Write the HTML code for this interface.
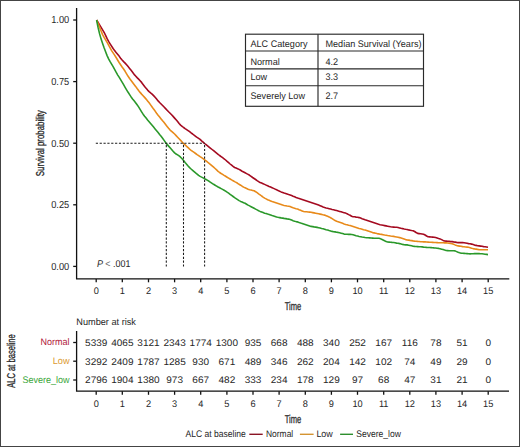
<!DOCTYPE html><html><head><meta charset="utf-8"><style>
html,body{margin:0;padding:0;background:#fff;}
body{width:520px;height:447px;overflow:hidden;position:relative;}
svg{position:absolute;left:0;top:0;text-rendering:geometricPrecision;}
text{font-family:"Liberation Sans",sans-serif;fill:#262626;}
.cd{stroke:#222;stroke-width:0.28px;}
</style></head><body>
<svg width="520" height="447" viewBox="0 0 520 447">
<rect x="0" y="0" width="520" height="447" fill="#fff"/>

<rect x="0.5" y="0.5" width="519" height="446" fill="none" stroke="#444" stroke-width="1"/>
<g stroke="#111" stroke-width="1.3" fill="none">
<path d="M76.6 8 V278.9 H509.3"/>
<path d="M73.2 20.0 H76.6"/>
<path d="M73.2 81.6 H76.6"/>
<path d="M73.2 143.2 H76.6"/>
<path d="M73.2 204.8 H76.6"/>
<path d="M73.2 266.4 H76.6"/>
<path d="M96.2 278.9 V282.3"/>
<path d="M122.3 278.9 V282.3"/>
<path d="M148.5 278.9 V282.3"/>
<path d="M174.6 278.9 V282.3"/>
<path d="M200.7 278.9 V282.3"/>
<path d="M226.9 278.9 V282.3"/>
<path d="M253.0 278.9 V282.3"/>
<path d="M279.1 278.9 V282.3"/>
<path d="M305.3 278.9 V282.3"/>
<path d="M331.4 278.9 V282.3"/>
<path d="M357.5 278.9 V282.3"/>
<path d="M383.7 278.9 V282.3"/>
<path d="M409.8 278.9 V282.3"/>
<path d="M435.9 278.9 V282.3"/>
<path d="M462.1 278.9 V282.3"/>
<path d="M488.2 278.9 V282.3"/>
</g>
<text transform="translate(69.20 23.30) scale(0.910 1)" font-size="10.2" text-anchor="end">1.00</text>
<text transform="translate(69.20 84.90) scale(0.910 1)" font-size="10.2" text-anchor="end">0.75</text>
<text transform="translate(69.20 146.50) scale(0.910 1)" font-size="10.2" text-anchor="end">0.50</text>
<text transform="translate(69.20 208.10) scale(0.910 1)" font-size="10.2" text-anchor="end">0.25</text>
<text transform="translate(69.20 269.70) scale(0.910 1)" font-size="10.2" text-anchor="end">0.00</text>
<text transform="translate(96.20 294.40) scale(0.960 1)" font-size="9.6" text-anchor="middle">0</text>
<text transform="translate(122.33 294.40) scale(0.960 1)" font-size="9.6" text-anchor="middle">1</text>
<text transform="translate(148.47 294.40) scale(0.960 1)" font-size="9.6" text-anchor="middle">2</text>
<text transform="translate(174.60 294.40) scale(0.960 1)" font-size="9.6" text-anchor="middle">3</text>
<text transform="translate(200.73 294.40) scale(0.960 1)" font-size="9.6" text-anchor="middle">4</text>
<text transform="translate(226.87 294.40) scale(0.960 1)" font-size="9.6" text-anchor="middle">5</text>
<text transform="translate(253.00 294.40) scale(0.960 1)" font-size="9.6" text-anchor="middle">6</text>
<text transform="translate(279.13 294.40) scale(0.960 1)" font-size="9.6" text-anchor="middle">7</text>
<text transform="translate(305.27 294.40) scale(0.960 1)" font-size="9.6" text-anchor="middle">8</text>
<text transform="translate(331.40 294.40) scale(0.960 1)" font-size="9.6" text-anchor="middle">9</text>
<text transform="translate(357.53 294.40) scale(0.960 1)" font-size="9.6" text-anchor="middle">10</text>
<text transform="translate(383.67 294.40) scale(0.960 1)" font-size="9.6" text-anchor="middle">11</text>
<text transform="translate(409.80 294.40) scale(0.960 1)" font-size="9.6" text-anchor="middle">12</text>
<text transform="translate(435.93 294.40) scale(0.960 1)" font-size="9.6" text-anchor="middle">13</text>
<text transform="translate(462.07 294.40) scale(0.960 1)" font-size="9.6" text-anchor="middle">14</text>
<text transform="translate(488.20 294.40) scale(0.960 1)" font-size="9.6" text-anchor="middle">15</text>
<text transform="translate(292.9 309.8) scale(0.665 1)" font-size="11.4" text-anchor="middle" class="cd">Time</text>
<text transform="translate(44.1 143.2) rotate(-90) scale(0.69 1)" font-size="11.4" text-anchor="middle" class="cd">Survival probability</text>
<polyline points="96.6,20.0 98.1,22.5 99.6,24.9 101.1,27.3 102.6,29.8 104.1,32.4 105.6,35.4 107.1,38.7 108.6,41.4 110.1,43.8 111.6,46.2 113.1,48.5 114.6,50.6 116.1,52.4 117.6,54.2 119.1,56.1 120.6,58.2 122.1,60.0 123.6,61.6 125.1,63.1 126.6,64.8 128.1,66.6 129.6,68.4 131.1,70.3 132.6,72.2 134.1,74.4 135.6,76.0 137.1,77.6 138.6,79.1 140.1,80.7 141.6,82.4 143.1,84.4 144.6,86.4 146.1,88.3 147.6,90.1 149.1,91.6 150.6,92.9 152.1,94.1 153.6,95.6 155.1,97.3 156.6,99.1 158.1,100.9 159.6,102.5 161.1,104.0 162.6,105.5 164.1,107.0 165.6,108.6 167.1,110.2 168.6,111.8 170.1,113.3 171.6,114.8 173.1,116.4 174.6,118.1 176.1,119.8 177.6,121.6 179.1,123.5 180.6,125.1 182.1,126.3 183.6,127.5 185.1,128.6 186.6,129.6 188.1,130.6 189.6,131.7 191.1,132.9 192.6,134.0 194.1,135.2 195.6,136.3 197.1,137.4 198.6,138.4 200.1,139.4 201.6,140.8 203.1,142.1 204.6,143.5 206.1,144.7 207.6,145.9 209.1,147.1 210.6,148.3 212.1,149.5 213.6,150.7 215.1,151.9 216.6,153.1 218.1,154.3 219.6,155.5 221.1,156.6 222.6,157.7 224.1,158.8 225.6,160.0 227.1,161.4 228.6,162.7 230.1,164.0 231.6,165.2 233.1,166.4 234.6,167.5 236.1,168.1 237.6,168.7 239.1,169.4 240.6,170.3 242.1,171.2 243.6,172.0 245.1,172.8 246.6,173.6 248.1,174.4 249.6,175.3 251.1,176.4 252.6,177.5 254.1,178.5 255.6,179.5 257.1,180.6 258.6,181.6 260.1,182.5 261.6,183.1 263.1,183.7 264.6,184.4 266.1,185.1 267.6,185.8 269.1,186.5 270.6,187.1 272.1,187.7 273.6,188.4 275.1,189.1 276.6,189.8 278.1,190.6 279.6,191.2 281.1,191.9 282.6,192.5 284.1,193.1 285.6,193.5 287.1,194.0 288.6,194.5 290.1,194.9 291.6,195.5 293.1,196.2 294.6,196.8 296.1,197.5 297.6,198.1 299.1,198.5 300.6,199.0 302.1,199.5 303.6,200.0 305.1,200.5 306.6,201.0 308.1,201.5 309.6,202.0 311.1,202.5 312.6,203.0 314.1,203.5 315.6,204.0 317.1,204.5 318.6,205.1 320.1,205.7 321.6,206.3 323.1,207.0 324.6,207.6 326.1,208.0 327.6,208.3 329.1,208.7 330.6,209.1 332.1,209.5 333.6,209.8 335.1,210.2 336.6,210.6 338.1,211.0 339.6,211.4 341.1,211.8 342.6,212.3 344.1,212.7 345.6,213.1 347.1,213.8 348.6,214.6 350.1,215.3 351.6,216.2 353.1,216.8 354.6,216.8 356.1,217.1 357.6,217.3 359.1,217.6 360.6,218.1 362.1,218.7 363.6,219.2 365.1,219.8 366.6,220.3 368.1,220.8 369.6,221.3 371.1,221.8 372.6,222.3 374.1,222.8 375.6,223.3 377.1,223.8 378.6,224.3 380.1,224.7 381.6,225.0 383.1,225.3 384.6,225.6 386.1,225.9 387.6,226.2 389.1,226.5 390.6,226.8 392.1,227.0 393.6,227.1 395.1,227.3 396.6,227.3 398.1,227.5 399.6,227.9 401.1,228.3 402.6,228.6 404.1,229.0 405.6,229.3 407.1,229.5 408.6,229.9 410.1,230.2 411.6,230.5 413.1,230.7 414.6,231.5 416.1,232.5 417.6,233.4 419.1,233.6 420.6,233.8 422.1,234.0 423.6,234.2 425.1,235.0 426.6,236.0 428.1,236.8 429.6,236.9 431.1,237.0 432.6,237.1 434.1,237.2 435.6,237.6 437.1,238.0 438.6,238.5 440.1,238.9 441.6,239.6 443.1,240.4 444.6,241.0 446.1,241.1 447.6,241.3 449.1,241.4 450.6,241.6 452.1,241.6 453.6,241.9 455.1,242.1 456.6,242.4 458.1,242.6 459.6,242.6 461.1,242.6 462.6,242.6 464.1,242.7 465.6,243.0 467.1,243.3 468.6,243.6 470.1,243.8 471.6,244.1 473.1,244.6 474.6,245.1 476.1,245.4 477.6,245.7 479.1,245.9 480.6,246.1 482.1,246.3 483.6,246.6 485.1,246.8 486.6,247.0 488.0,247.2" fill="none" stroke="#a40a20" stroke-width="1.6" stroke-linejoin="round"/>
<polyline points="96.6,20.0 98.1,23.5 99.6,27.2 101.1,31.0 102.6,34.6 104.1,37.4 105.6,39.9 107.1,42.4 108.6,45.1 110.1,47.9 111.6,50.6 113.1,52.9 114.6,55.1 116.1,57.5 117.6,60.0 119.1,62.5 120.6,64.8 122.1,67.0 123.6,69.0 125.1,71.3 126.6,73.8 128.1,76.3 129.6,78.5 131.1,80.4 132.6,82.4 134.1,84.4 135.6,86.4 137.1,88.5 138.6,90.5 140.1,92.4 141.6,94.1 143.1,95.7 144.6,97.4 146.1,99.1 147.6,100.9 149.1,102.8 150.6,104.9 152.1,107.0 153.6,109.1 155.1,111.1 156.6,113.2 158.1,115.2 159.6,117.0 161.1,118.9 162.6,120.8 164.1,122.6 165.6,124.5 167.1,126.4 168.6,128.3 170.1,130.1 171.6,131.4 173.1,132.7 174.6,134.0 176.1,135.6 177.6,137.2 179.1,138.8 180.6,140.4 182.1,142.0 183.6,143.6 185.1,144.9 186.6,146.3 188.1,147.7 189.6,149.1 191.1,150.3 192.6,151.4 194.1,152.4 195.6,153.5 197.1,154.6 198.6,155.6 200.1,156.7 201.6,157.7 203.1,158.7 204.6,159.8 206.1,160.9 207.6,162.2 209.1,163.4 210.6,164.6 212.1,165.9 213.6,167.2 215.1,168.5 216.6,169.9 218.1,171.3 219.6,172.5 221.1,173.5 222.6,174.4 224.1,175.4 225.6,176.3 227.1,177.2 228.6,178.1 230.1,179.0 231.6,179.9 233.1,180.7 234.6,181.6 236.1,182.4 237.6,183.3 239.1,184.3 240.6,185.2 242.1,186.2 243.6,187.1 245.1,187.8 246.6,188.5 248.1,189.2 249.6,189.7 251.1,190.0 252.6,190.4 254.1,190.8 255.6,191.7 257.1,192.7 258.6,193.8 260.1,194.8 261.6,196.0 263.1,197.1 264.6,198.1 266.1,198.9 267.6,199.7 269.1,200.3 270.6,200.9 272.1,201.5 273.6,202.0 275.1,202.5 276.6,203.0 278.1,203.5 279.6,204.0 281.1,204.5 282.6,205.1 284.1,205.5 285.6,205.7 287.1,206.0 288.6,206.2 290.1,206.6 291.6,207.2 293.1,207.8 294.6,208.3 296.1,208.7 297.6,209.0 299.1,209.7 300.6,210.3 302.1,210.9 303.6,211.5 305.1,211.7 306.6,211.8 308.1,212.0 309.6,212.1 311.1,212.3 312.6,212.6 314.1,212.9 315.6,213.2 317.1,213.5 318.6,213.8 320.1,214.1 321.6,214.4 323.1,214.8 324.6,215.1 326.1,215.7 327.6,216.3 329.1,216.9 330.6,217.7 332.1,218.6 333.6,219.6 335.1,220.5 336.6,221.3 338.1,221.8 339.6,222.3 341.1,222.8 342.6,223.3 344.1,223.9 345.6,224.4 347.1,224.8 348.6,225.2 350.1,225.5 351.6,225.9 353.1,226.4 354.6,226.9 356.1,227.4 357.6,227.9 359.1,228.4 360.6,228.8 362.1,229.2 363.6,229.7 365.1,230.1 366.6,230.6 368.1,231.1 369.6,231.6 371.1,232.1 372.6,232.6 374.1,232.9 375.6,233.2 377.1,233.6 378.6,233.9 380.1,234.2 381.6,234.4 383.1,234.7 384.6,235.0 386.1,235.2 387.6,235.5 389.1,235.7 390.6,236.0 392.1,236.2 393.6,236.4 395.1,236.7 396.6,237.0 398.1,237.3 399.6,237.6 401.1,238.1 402.6,238.6 404.1,239.1 405.6,239.6 407.1,239.9 408.6,240.1 410.1,240.4 411.6,240.6 413.1,240.9 414.6,241.1 416.1,241.2 417.6,241.4 419.1,241.5 420.6,241.7 422.1,241.8 423.6,241.9 425.1,241.9 426.6,242.0 428.1,242.1 429.6,242.2 431.1,242.3 432.6,242.4 434.1,242.5 435.6,242.5 437.1,242.6 438.6,242.7 440.1,242.7 441.6,242.8 443.1,242.8 444.6,242.9 446.1,242.9 447.6,243.0 449.1,243.2 450.6,243.5 452.1,243.7 453.6,244.2 455.1,244.9 456.6,245.5 458.1,245.9 459.6,246.1 461.1,246.3 462.6,246.6 464.1,246.8 465.6,247.0 467.1,247.1 468.6,247.3 470.1,247.7 471.6,248.2 473.1,248.6 474.6,248.9 476.1,249.1 477.6,249.4 479.1,249.6 480.6,249.7 482.1,249.7 483.6,249.7 485.1,249.7 486.6,249.8 488.0,249.8" fill="none" stroke="#e88a1a" stroke-width="1.6" stroke-linejoin="round"/>
<polyline points="96.6,20.0 98.1,27.5 99.6,33.9 101.1,39.1 102.6,43.6 104.1,47.8 105.6,51.7 107.1,55.6 108.6,58.9 110.1,61.7 111.6,64.2 113.1,66.6 114.6,69.4 116.1,72.2 117.6,74.8 119.1,77.2 120.6,79.6 122.1,82.1 123.6,84.7 125.1,87.3 126.6,89.8 128.1,92.3 129.6,94.6 131.1,96.9 132.6,98.9 134.1,100.8 135.6,102.7 137.1,104.8 138.6,106.9 140.1,109.3 141.6,111.8 143.1,114.2 144.6,116.2 146.1,118.0 147.6,119.9 149.1,121.7 150.6,123.5 152.1,125.3 153.6,127.1 155.1,128.9 156.6,130.7 158.1,132.5 159.6,134.4 161.1,136.2 162.6,138.2 164.1,140.4 165.6,142.5 167.1,144.4 168.6,146.1 170.1,147.8 171.6,149.5 173.1,151.3 174.6,152.9 176.1,154.0 177.6,154.9 179.1,155.9 180.6,157.2 182.1,158.8 183.6,160.6 185.1,162.5 186.6,164.2 188.1,166.0 189.6,167.6 191.1,169.0 192.6,170.3 194.1,171.6 195.6,172.9 197.1,174.1 198.6,175.4 200.1,176.4 201.6,177.1 203.1,177.9 204.6,178.7 206.1,179.5 207.6,180.4 209.1,181.3 210.6,182.3 212.1,183.3 213.6,184.3 215.1,185.2 216.6,186.1 218.1,187.0 219.6,187.8 221.1,188.6 222.6,189.4 224.1,190.2 225.6,191.1 227.1,192.2 228.6,193.2 230.1,194.3 231.6,195.4 233.1,196.5 234.6,197.6 236.1,198.6 237.6,199.6 239.1,200.6 240.6,201.4 242.1,202.0 243.6,202.7 245.1,203.3 246.6,204.2 248.1,205.1 249.6,205.9 251.1,206.7 252.6,207.5 254.1,208.3 255.6,209.1 257.1,209.9 258.6,210.7 260.1,211.4 261.6,212.0 263.1,212.6 264.6,213.2 266.1,213.6 267.6,214.1 269.1,214.5 270.6,215.0 272.1,215.5 273.6,215.9 275.1,216.4 276.6,216.9 278.1,217.3 279.6,217.6 281.1,217.9 282.6,218.1 284.1,218.4 285.6,218.6 287.1,218.9 288.6,219.1 290.1,219.5 291.6,220.1 293.1,220.7 294.6,221.2 296.1,221.6 297.6,221.9 299.1,222.5 300.6,223.0 302.1,223.4 303.6,223.9 305.1,224.4 306.6,224.9 308.1,225.4 309.6,225.9 311.1,226.4 312.6,226.6 314.1,226.9 315.6,227.1 317.1,227.4 318.6,227.7 320.1,228.1 321.6,228.5 323.1,228.8 324.6,229.2 326.1,229.7 327.6,230.1 329.1,230.6 330.6,231.0 332.1,231.4 333.6,231.7 335.1,231.9 336.6,232.2 338.1,232.4 339.6,232.8 341.1,233.2 342.6,233.6 344.1,234.1 345.6,234.3 347.1,234.3 348.6,234.4 350.1,234.4 351.6,234.5 353.1,234.8 354.6,235.2 356.1,235.7 357.6,236.1 359.1,236.5 360.6,236.7 362.1,237.0 363.6,237.2 365.1,237.5 366.6,237.7 368.1,237.8 369.6,237.9 371.1,238.0 372.6,238.1 374.1,238.2 375.6,238.2 377.1,238.3 378.6,238.2 380.1,238.6 381.6,239.3 383.1,240.0 384.6,240.8 386.1,241.6 387.6,242.0 389.1,242.1 390.6,242.2 392.1,242.4 393.6,242.5 395.1,242.8 396.6,243.1 398.1,243.3 399.6,243.6 401.1,244.0 402.6,244.4 404.1,244.7 405.6,244.9 407.1,244.9 408.6,245.2 410.1,245.5 411.6,245.8 413.1,246.2 414.6,246.4 416.1,246.5 417.6,246.6 419.1,246.7 420.6,246.8 422.1,246.9 423.6,247.1 425.1,247.2 426.6,247.4 428.1,247.5 429.6,247.5 431.1,247.6 432.6,247.7 434.1,247.9 435.6,248.0 437.1,248.2 438.6,248.4 440.1,248.8 441.6,249.2 443.1,249.6 444.6,250.1 446.1,250.5 447.6,250.6 449.1,250.7 450.6,250.7 452.1,250.8 453.6,250.8 455.1,250.9 456.6,251.6 458.1,252.3 459.6,252.8 461.1,253.1 462.6,253.3 464.1,253.4 465.6,253.5 467.1,253.6 468.6,253.8 470.1,253.9 471.6,253.8 473.1,253.7 474.6,253.6 476.1,253.6 477.6,253.6 479.1,253.6 480.6,253.7 482.1,253.8 483.6,254.0 485.1,254.2 486.6,254.4 488.0,254.6" fill="none" stroke="#2a982a" stroke-width="1.6" stroke-linejoin="round"/>
<g stroke="#1a1a1a" stroke-width="1.05" stroke-dasharray="2.2 1.65" fill="none">
<path d="M95.8 143.3 H204.6"/>
<path d="M166.3 266.6 V143.3"/>
<path d="M183.5 266.6 V143.3"/>
<path d="M204.6 266.6 V143.3"/>
</g>
<text x="96.9" y="267.0" font-size="9.8" textLength="33.6" lengthAdjust="spacingAndGlyphs"><tspan font-style="italic">P</tspan> <tspan style="fill:#666">&lt;</tspan> .001</text>
<g stroke="#2a2a2a" stroke-width="1.15" fill="none">
<rect x="245.5" y="34.2" width="178" height="72.1"/>
<path d="M318 34.2 V106.3 M245.5 51.0 H423.5 M245.5 68.8 H423.5 M245.5 85.7 H423.5"/>
</g>
<text transform="translate(250.50 47.00) scale(0.955 1)" font-size="9.5">ALC Category</text>
<text transform="translate(325.50 47.00) scale(0.955 1)" font-size="9.5">Median Survival (Years)</text>
<text transform="translate(250.50 64.90) scale(0.955 1)" font-size="9.5">Normal</text>
<text transform="translate(325.50 64.90) scale(0.955 1)" font-size="9.5">4.2</text>
<text transform="translate(250.50 80.40) scale(0.955 1)" font-size="9.5">Low</text>
<text transform="translate(325.50 80.40) scale(0.955 1)" font-size="9.5">3.3</text>
<text transform="translate(250.50 99.30) scale(0.955 1)" font-size="9.5">Severely Low</text>
<text transform="translate(325.50 99.30) scale(0.955 1)" font-size="9.5">2.7</text>
<text transform="translate(76.30 324.90) scale(0.965 1)" font-size="9.5">Number at risk</text>
<g stroke="#111" stroke-width="1.3" fill="none">
<path d="M76.6 331 V391.2 H509"/>
<path d="M73.2 342.5 H76.6"/>
<path d="M73.2 361.2 H76.6"/>
<path d="M73.2 380.0 H76.6"/>
<path d="M96.2 391.2 V394.8"/>
<path d="M122.3 391.2 V394.8"/>
<path d="M148.5 391.2 V394.8"/>
<path d="M174.6 391.2 V394.8"/>
<path d="M200.7 391.2 V394.8"/>
<path d="M226.9 391.2 V394.8"/>
<path d="M253.0 391.2 V394.8"/>
<path d="M279.1 391.2 V394.8"/>
<path d="M305.3 391.2 V394.8"/>
<path d="M331.4 391.2 V394.8"/>
<path d="M357.5 391.2 V394.8"/>
<path d="M383.7 391.2 V394.8"/>
<path d="M409.8 391.2 V394.8"/>
<path d="M435.9 391.2 V394.8"/>
<path d="M462.1 391.2 V394.8"/>
<path d="M488.2 391.2 V394.8"/>
</g>
<text x="40.6" y="345.4" font-size="9.6" textLength="29.0" lengthAdjust="spacingAndGlyphs" style="fill:#b0163a">Normal</text>
<text transform="translate(96.20 345.90) scale(1.055 1)" font-size="9.5" text-anchor="middle">5339</text>
<text transform="translate(122.33 345.90) scale(1.055 1)" font-size="9.5" text-anchor="middle">4065</text>
<text transform="translate(148.47 345.90) scale(1.055 1)" font-size="9.5" text-anchor="middle">3121</text>
<text transform="translate(174.60 345.90) scale(1.055 1)" font-size="9.5" text-anchor="middle">2343</text>
<text transform="translate(200.73 345.90) scale(1.055 1)" font-size="9.5" text-anchor="middle">1774</text>
<text transform="translate(226.87 345.90) scale(1.055 1)" font-size="9.5" text-anchor="middle">1300</text>
<text transform="translate(253.00 345.90) scale(1.055 1)" font-size="9.5" text-anchor="middle">935</text>
<text transform="translate(279.13 345.90) scale(1.055 1)" font-size="9.5" text-anchor="middle">668</text>
<text transform="translate(305.27 345.90) scale(1.055 1)" font-size="9.5" text-anchor="middle">488</text>
<text transform="translate(331.40 345.90) scale(1.055 1)" font-size="9.5" text-anchor="middle">340</text>
<text transform="translate(357.53 345.90) scale(1.055 1)" font-size="9.5" text-anchor="middle">252</text>
<text transform="translate(383.67 345.90) scale(1.055 1)" font-size="9.5" text-anchor="middle">167</text>
<text transform="translate(409.80 345.90) scale(1.055 1)" font-size="9.5" text-anchor="middle">116</text>
<text transform="translate(435.93 345.90) scale(1.055 1)" font-size="9.5" text-anchor="middle">78</text>
<text transform="translate(462.07 345.90) scale(1.055 1)" font-size="9.5" text-anchor="middle">51</text>
<text transform="translate(488.20 345.90) scale(1.055 1)" font-size="9.5" text-anchor="middle">0</text>
<text x="52.7" y="364.2" font-size="9.6" textLength="16.9" lengthAdjust="spacingAndGlyphs" style="fill:#dc9a32">Low</text>
<text transform="translate(96.20 364.60) scale(1.055 1)" font-size="9.5" text-anchor="middle">3292</text>
<text transform="translate(122.33 364.60) scale(1.055 1)" font-size="9.5" text-anchor="middle">2409</text>
<text transform="translate(148.47 364.60) scale(1.055 1)" font-size="9.5" text-anchor="middle">1787</text>
<text transform="translate(174.60 364.60) scale(1.055 1)" font-size="9.5" text-anchor="middle">1285</text>
<text transform="translate(200.73 364.60) scale(1.055 1)" font-size="9.5" text-anchor="middle">930</text>
<text transform="translate(226.87 364.60) scale(1.055 1)" font-size="9.5" text-anchor="middle">671</text>
<text transform="translate(253.00 364.60) scale(1.055 1)" font-size="9.5" text-anchor="middle">489</text>
<text transform="translate(279.13 364.60) scale(1.055 1)" font-size="9.5" text-anchor="middle">346</text>
<text transform="translate(305.27 364.60) scale(1.055 1)" font-size="9.5" text-anchor="middle">262</text>
<text transform="translate(331.40 364.60) scale(1.055 1)" font-size="9.5" text-anchor="middle">204</text>
<text transform="translate(357.53 364.60) scale(1.055 1)" font-size="9.5" text-anchor="middle">142</text>
<text transform="translate(383.67 364.60) scale(1.055 1)" font-size="9.5" text-anchor="middle">102</text>
<text transform="translate(409.80 364.60) scale(1.055 1)" font-size="9.5" text-anchor="middle">74</text>
<text transform="translate(435.93 364.60) scale(1.055 1)" font-size="9.5" text-anchor="middle">49</text>
<text transform="translate(462.07 364.60) scale(1.055 1)" font-size="9.5" text-anchor="middle">29</text>
<text transform="translate(488.20 364.60) scale(1.055 1)" font-size="9.5" text-anchor="middle">0</text>
<text x="22.4" y="382.8" font-size="9.6" textLength="47.2" lengthAdjust="spacingAndGlyphs" style="fill:#3aa63a">Severe_low</text>
<text transform="translate(96.20 383.40) scale(1.055 1)" font-size="9.5" text-anchor="middle">2796</text>
<text transform="translate(122.33 383.40) scale(1.055 1)" font-size="9.5" text-anchor="middle">1904</text>
<text transform="translate(148.47 383.40) scale(1.055 1)" font-size="9.5" text-anchor="middle">1380</text>
<text transform="translate(174.60 383.40) scale(1.055 1)" font-size="9.5" text-anchor="middle">973</text>
<text transform="translate(200.73 383.40) scale(1.055 1)" font-size="9.5" text-anchor="middle">667</text>
<text transform="translate(226.87 383.40) scale(1.055 1)" font-size="9.5" text-anchor="middle">482</text>
<text transform="translate(253.00 383.40) scale(1.055 1)" font-size="9.5" text-anchor="middle">333</text>
<text transform="translate(279.13 383.40) scale(1.055 1)" font-size="9.5" text-anchor="middle">234</text>
<text transform="translate(305.27 383.40) scale(1.055 1)" font-size="9.5" text-anchor="middle">178</text>
<text transform="translate(331.40 383.40) scale(1.055 1)" font-size="9.5" text-anchor="middle">129</text>
<text transform="translate(357.53 383.40) scale(1.055 1)" font-size="9.5" text-anchor="middle">97</text>
<text transform="translate(383.67 383.40) scale(1.055 1)" font-size="9.5" text-anchor="middle">68</text>
<text transform="translate(409.80 383.40) scale(1.055 1)" font-size="9.5" text-anchor="middle">47</text>
<text transform="translate(435.93 383.40) scale(1.055 1)" font-size="9.5" text-anchor="middle">31</text>
<text transform="translate(462.07 383.40) scale(1.055 1)" font-size="9.5" text-anchor="middle">21</text>
<text transform="translate(488.20 383.40) scale(1.055 1)" font-size="9.5" text-anchor="middle">0</text>
<text transform="translate(96.20 406.80) scale(0.960 1)" font-size="9.6" text-anchor="middle">0</text>
<text transform="translate(122.33 406.80) scale(0.960 1)" font-size="9.6" text-anchor="middle">1</text>
<text transform="translate(148.47 406.80) scale(0.960 1)" font-size="9.6" text-anchor="middle">2</text>
<text transform="translate(174.60 406.80) scale(0.960 1)" font-size="9.6" text-anchor="middle">3</text>
<text transform="translate(200.73 406.80) scale(0.960 1)" font-size="9.6" text-anchor="middle">4</text>
<text transform="translate(226.87 406.80) scale(0.960 1)" font-size="9.6" text-anchor="middle">5</text>
<text transform="translate(253.00 406.80) scale(0.960 1)" font-size="9.6" text-anchor="middle">6</text>
<text transform="translate(279.13 406.80) scale(0.960 1)" font-size="9.6" text-anchor="middle">7</text>
<text transform="translate(305.27 406.80) scale(0.960 1)" font-size="9.6" text-anchor="middle">8</text>
<text transform="translate(331.40 406.80) scale(0.960 1)" font-size="9.6" text-anchor="middle">9</text>
<text transform="translate(357.53 406.80) scale(0.960 1)" font-size="9.6" text-anchor="middle">10</text>
<text transform="translate(383.67 406.80) scale(0.960 1)" font-size="9.6" text-anchor="middle">11</text>
<text transform="translate(409.80 406.80) scale(0.960 1)" font-size="9.6" text-anchor="middle">12</text>
<text transform="translate(435.93 406.80) scale(0.960 1)" font-size="9.6" text-anchor="middle">13</text>
<text transform="translate(462.07 406.80) scale(0.960 1)" font-size="9.6" text-anchor="middle">14</text>
<text transform="translate(488.20 406.80) scale(0.960 1)" font-size="9.6" text-anchor="middle">15</text>
<text transform="translate(292.9 422.7) scale(0.665 1)" font-size="11.4" text-anchor="middle" class="cd">Time</text>
<text transform="translate(15.0 361) rotate(-90) scale(0.665 1)" font-size="11.4" text-anchor="middle" class="cd">ALC at baseline</text>
<text x="185.6" y="437" font-size="9.6" textLength="60.2" lengthAdjust="spacingAndGlyphs">ALC at baseline</text>
<path d="M249.3 434.3 H262.7" stroke="#8a1424" stroke-width="1.4"/>
<text x="266.0" y="437" font-size="9.6" textLength="27.2" lengthAdjust="spacingAndGlyphs">Normal</text>
<path d="M299.9 434.3 H313.6" stroke="#d49432" stroke-width="1.4"/>
<text x="316.4" y="437" font-size="9.6" textLength="16.4" lengthAdjust="spacingAndGlyphs">Low</text>
<path d="M340.1 434.3 H353" stroke="#2e8e2e" stroke-width="1.4"/>
<text x="356.3" y="437" font-size="9.6" textLength="44.6" lengthAdjust="spacingAndGlyphs">Severe_low</text>
</svg></body></html>
